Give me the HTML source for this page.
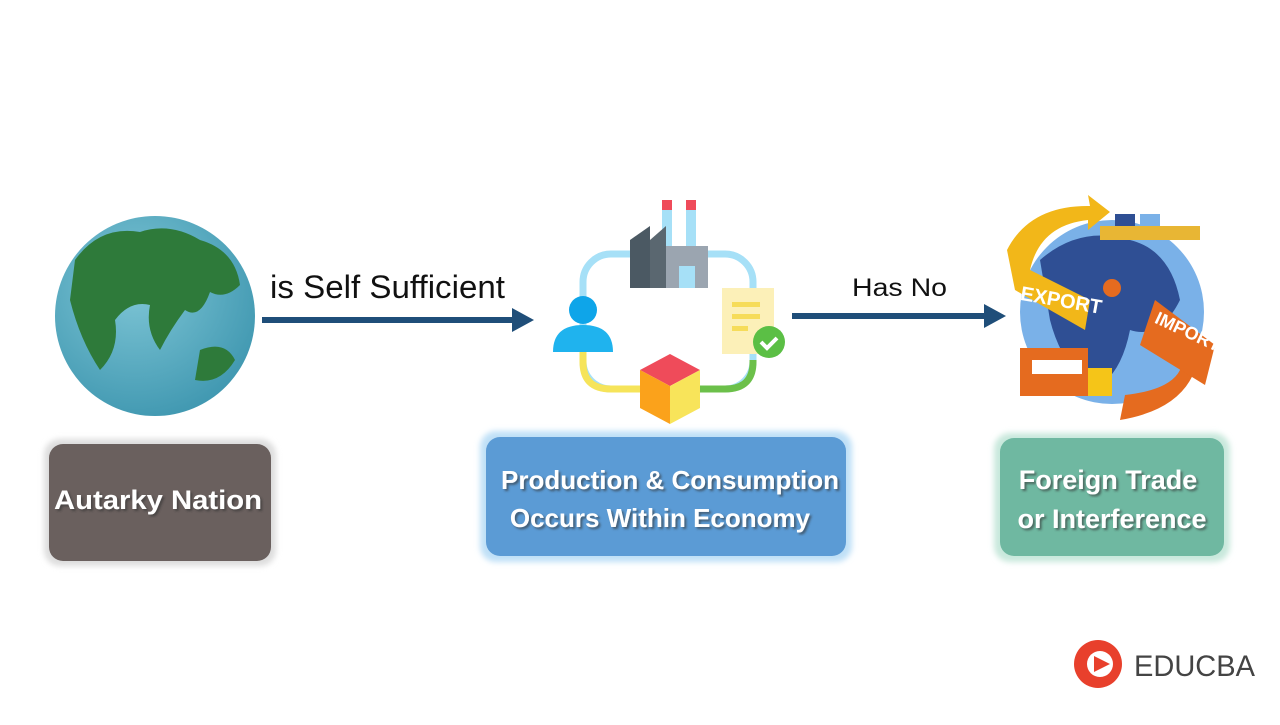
<!DOCTYPE html>
<html><head><meta charset="utf-8"><style>
body{margin:0;width:1280px;height:720px;background:#fff;overflow:hidden;font-family:"Liberation Sans",sans-serif}
</style></head><body>
<svg width="1280" height="720" viewBox="0 0 1280 720" xmlns="http://www.w3.org/2000/svg" font-family="Liberation Sans, sans-serif">
<defs>
<radialGradient id="g1" cx="0.4" cy="0.35" r="0.7"><stop offset="0" stop-color="#7fc6d6"/><stop offset="1" stop-color="#3f97b0"/></radialGradient>
<filter id="sh"><feDropShadow dx="2" dy="2" stdDeviation="1" flood-color="#333" flood-opacity="0.6"/></filter>
<filter id="gl"><feGaussianBlur stdDeviation="3"/></filter>
</defs>
<circle cx="155" cy="316" r="100" fill="url(#g1)"/>
<path d="M75 260 Q100 225 140 232 Q170 222 200 240 Q235 250 240 285 Q225 300 210 292 Q200 320 185 310 Q170 330 160 350 Q145 330 150 305 Q130 300 115 320 Q120 350 100 370 Q80 340 70 300 Z" fill="#2e7a3a"/>
<path d="M200 350 Q225 340 235 360 Q220 385 195 380 Z" fill="#2e7a3a"/>
<line x1="262" y1="320" x2="515" y2="320" stroke="#1f4e79" stroke-width="6"/>
<polygon points="512,308 534,320 512,332" fill="#1f4e79"/>
<line x1="792" y1="316" x2="987" y2="316" stroke="#1f4e79" stroke-width="6"/>
<polygon points="984,304 1006,316 984,328" fill="#1f4e79"/>
<text x="270" y="298" font-size="32" fill="#111" textLength="235" lengthAdjust="spacingAndGlyphs">is Self Sufficient</text>
<text x="852" y="296" font-size="25" fill="#111" textLength="95" lengthAdjust="spacingAndGlyphs">Has No</text>
<rect x="583" y="254" width="170" height="135" rx="28" fill="none" stroke="#a6e0f7" stroke-width="7"/>
<path d="M583 340 V362 Q583 389 611 389 H640" fill="none" stroke="#f6e45a" stroke-width="7"/>
<path d="M753 360 V362 Q753 389 725 389 H700" fill="none" stroke="#6cc04a" stroke-width="7"/>
<rect x="662" y="200" width="10" height="10" fill="#ef4b5a"/><rect x="686" y="200" width="10" height="10" fill="#ef4b5a"/>
<rect x="662" y="210" width="10" height="40" fill="#a6e0f7"/><rect x="686" y="210" width="10" height="40" fill="#a6e0f7"/>
<rect x="665" y="246" width="43" height="42" fill="#9ba5b0"/>
<polygon points="630,240 650,226 650,288 630,288" fill="#4b5963"/>
<polygon points="650,240 666,226 666,288 650,288" fill="#5a6770"/>
<rect x="679" y="266" width="16" height="22" fill="#a6e0f7"/>
<circle cx="583" cy="310" r="14" fill="#0ea5e9"/>
<path d="M553 352 Q553 325 583 325 Q613 325 613 352 Z" fill="#1fb3ee"/>
<rect x="722" y="288" width="52" height="66" fill="#fcf0b8"/>
<rect x="732" y="302" width="28" height="5" fill="#f6dc5a"/><rect x="732" y="314" width="28" height="5" fill="#f6dc5a"/><rect x="732" y="326" width="16" height="5" fill="#f6dc5a"/>
<circle cx="769" cy="342" r="16" fill="#5bbf45"/>
<path d="M761 342 l6 6 l10 -10" fill="none" stroke="#fff" stroke-width="4"/>
<polygon points="670,354 700,370 670,386 640,370" fill="#ef4b5a"/>
<polygon points="640,370 670,386 670,424 640,408" fill="#fba21b"/>
<polygon points="700,370 670,386 670,424 700,408" fill="#f8e45a"/>
<circle cx="1112" cy="312" r="92" fill="#7ab1e8"/>
<path d="M1040 260 Q1080 225 1130 240 Q1170 250 1180 300 Q1160 340 1130 330 Q1120 380 1090 390 Q1060 360 1050 320 Z" fill="#2f4f94"/>
<path d="M1007 250 Q1030 205 1090 206 L1088 195 L1110 212 L1088 230 L1088 220 Q1040 225 1030 270 L1090 300 L1085 330 L1015 290 Z" fill="#f2b719"/>
<text x="1020" y="305" font-size="20" font-weight="bold" fill="#fff" transform="rotate(10 1050 300)">EXPORT</text>
<path d="M1165 310 L1145 340 L1150 325 Q1195 330 1195 370 Q1180 410 1120 420 L1125 395 Q1170 390 1180 370 Q1175 345 1150 340 Z" fill="#e56b1f"/>
<polygon points="1155,300 1215,345 1205,385 1140,345" fill="#e56b1f"/>
<text x="1152" y="330" font-size="18" font-weight="bold" fill="#fff" transform="rotate(25 1170 330)">IMPORT</text>
<rect x="1020" y="348" width="68" height="48" fill="#e56b1f"/>
<rect x="1032" y="360" width="50" height="14" fill="#fff"/>
<rect x="1088" y="368" width="24" height="28" fill="#f5c518"/>
<rect x="1100" y="226" width="100" height="14" fill="#e8b634"/>
<rect x="1115" y="214" width="20" height="12" fill="#2f4f94"/><rect x="1140" y="214" width="20" height="12" fill="#7ab1e8"/>
<circle cx="1112" cy="288" r="9" fill="#e56b1f"/>
<rect x="44" y="439" width="232" height="127" rx="16" fill="#ddd" filter="url(#gl)"/>
<rect x="49" y="444" width="222" height="117" rx="14" fill="#6a605e"/>
<text x="158" y="509" font-size="27" font-weight="bold" fill="#fff" text-anchor="middle" filter="url(#sh)" textLength="208" lengthAdjust="spacingAndGlyphs">Autarky Nation</text>
<rect x="480" y="431" width="372" height="131" rx="16" fill="#bfe0f7" filter="url(#gl)"/>
<rect x="486" y="437" width="360" height="119" rx="14" fill="#5b9bd5"/>
<text x="670" y="489" font-size="26" font-weight="bold" fill="#fff" text-anchor="middle" filter="url(#sh)">Production &amp; Consumption</text>
<text x="660" y="527" font-size="26" font-weight="bold" fill="#fff" text-anchor="middle" filter="url(#sh)">Occurs Within Economy</text>
<rect x="994" y="433" width="236" height="129" rx="16" fill="#c8e8dc" filter="url(#gl)"/>
<rect x="1000" y="438" width="224" height="118" rx="14" fill="#6fb8a1"/>
<text x="1108" y="489" font-size="27" font-weight="bold" fill="#fff" text-anchor="middle" filter="url(#sh)">Foreign Trade</text>
<text x="1112" y="528" font-size="27" font-weight="bold" fill="#fff" text-anchor="middle" filter="url(#sh)">or Interference</text>
<circle cx="1098" cy="664" r="24" fill="#e8402c"/>
<circle cx="1100" cy="664" r="13" fill="#fff"/>
<polygon points="1094,656 1110,664 1094,672" fill="#e8402c"/>
<text x="1134" y="676" font-size="30" fill="#444" textLength="121" lengthAdjust="spacingAndGlyphs">EDUCBA</text>
</svg>
</body></html>
